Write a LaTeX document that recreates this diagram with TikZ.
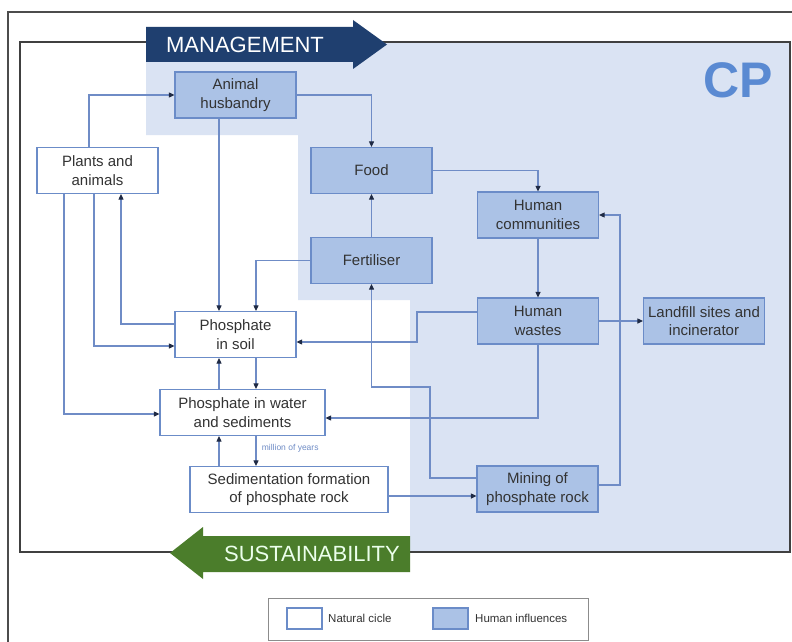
\documentclass[tikz,border=0pt]{standalone}
\usepackage{fontspec}
\setmainfont{Liberation Sans}
\usetikzlibrary{arrows.meta}

\definecolor{zona}{HTML}{DAE3F3}
\definecolor{caja}{HTML}{ABC2E6}
\definecolor{borde}{HTML}{6B8CC8}
\definecolor{linea}{HTML}{6F8CC6}
\definecolor{punta}{HTML}{1F2A44}
\definecolor{gestion}{HTML}{1F3F6F}
\definecolor{sosten}{HTML}{4B7D2B}
\definecolor{texto}{HTML}{333333}
\definecolor{sigla}{HTML}{5A8AD2}

\tikzset{
  natural/.style={draw=borde, line width=1.2pt, fill=white, minimum width=121pt,
    minimum height=46pt, inner sep=0pt, align=center, text=texto,
    font=\fontsize{15}{18.5}\selectfont},
  humano/.style={natural, fill=caja},
  flujo/.style={draw=linea, line width=1.1pt, -{Triangle[length=5.5pt,width=5pt,color=punta]}},
  leyenda/.style={text=texto, font=\fontsize{11.5}{13}\selectfont, inner sep=0pt, anchor=west},
}

\begin{document}
\begin{tikzpicture}[x=1pt, y=-1pt]
    % Fondo y marco
    \fill[white] (0,0) rectangle (792,642);
    \useasboundingbox (0,0) rectangle (792,642);
    \fill[zona] (146,42) -- (790,42) -- (790,552) -- (410,552) -- (410,300)
        -- (298,300) -- (298,135) -- (146,135) -- cycle;
    \draw[black!70, line width=1.5pt] (8,642) -- (8,12) -- (792,12);
    \draw[black!75, line width=2pt] (20,42) rectangle (790,552);

    % Flechas grandes
    \fill[gestion] (146,27) -- (353,27) -- (353,20) -- (387,44.5) -- (353,69)
        -- (353,62) -- (146,62) -- cycle;
    \node[text=white, font=\fontsize{22}{24}\selectfont] (gest) at (245,44.5) {MANAGEMENT};
    \fill[sosten] (410,536) -- (203,536) -- (203,527) -- (170,553) -- (203,579)
        -- (203,572) -- (410,572) -- cycle;
    \node[text=green!8!white, font=\fontsize{22}{24}\selectfont] (sost) at (312,554) {SUSTAINABILITY};
    \node[text=sigla, font=\fontsize{50}{52}\selectfont\bfseries] (cp) at (738,80) {CP};

    % Cajas
    \node[humano] (husb) at (235.5,95) {Animal\\husbandry};
    \node[natural] (plants) at (97.5,170.5) {Plants and\\animals};
    \node[humano] (food) at (371.5,170.5) {Food};
    \node[humano] (fert) at (371.5,260.5) {Fertiliser};
    \node[humano] (comm) at (538,215) {Human\\communities};
    \node[humano] (wastes) at (538,321) {Human\\wastes};
    \node[humano] (landfill) at (704,321) {Landfill sites and\\incinerator};
    \node[natural] (soil) at (235.5,334.5) {Phosphate\\in soil};
    \node[natural, minimum width=165pt] (water) at (242.5,412.5) {Phosphate in water\\and sediments};
    \node[natural, minimum width=198pt] (sed) at (289,489.5) {Sedimentation formation\\of phosphate rock};
    \node[humano] (mining) at (537.5,489) {Mining of\\phosphate rock};

    % Conexiones
    \draw[flujo] ([xshift=-8.5pt]plants.north) |- (husb.west);
    \draw[flujo] (husb.east) -| (food.north);
    \draw[flujo] ([xshift=-16.5pt]husb.south) -- ([xshift=-16.5pt]soil.north);
    \draw[flujo] (fert.west) -| ([xshift=20.5pt]soil.north);
    \draw[flujo] (fert.north) -- (food.south);
    \draw[flujo] ([yshift=11pt]mining.west) -| (430,387) -| (fert.south);
    \draw[flujo] (food.east) -| (comm.north);
    \draw[flujo] (comm.south) -- (wastes.north);
    \draw[flujo] (wastes.east) -- (landfill.west);
    \draw[flujo] ([yshift=4pt]mining.east) -| (620,215) -- (comm.east);
    \draw[flujo] ([yshift=9pt]wastes.west) -| (417,342) -- ([yshift=-7.5pt]soil.east);
    \draw[flujo] (wastes.south) |- ([yshift=-5.5pt]water.east);
    \draw[flujo] ([yshift=-6.5pt]sed.east) -- ([yshift=-7pt]mining.west);
    \draw[flujo] ([yshift=10.5pt]soil.west) -| ([xshift=23.5pt]plants.south);
    \draw[flujo] ([xshift=-3.5pt]plants.south) |- ([yshift=-11.5pt]soil.west);
    \draw[flujo] ([xshift=-33.5pt]plants.south) |- ([yshift=-1.5pt]water.west);
    \draw[flujo] ([xshift=-23.5pt]water.north) -- ([xshift=-16.5pt]soil.south);
    \draw[flujo] ([xshift=20.5pt]soil.south) -- ([xshift=13.5pt]water.north);
    \draw[flujo] ([xshift=13.5pt]water.south) -- ([xshift=-33pt]sed.north)
        node[pos=0.4, right=2pt, text=linea, font=\fontsize{8.5}{9}\selectfont] (myears) {million of years};
    \draw[flujo] ([xshift=-70pt]sed.north) -- ([xshift=-23.5pt]water.south);

    % Leyenda
    \draw[black!45, line width=1pt] (268,598) rectangle (588,640);
    \node[natural, minimum width=35pt, minimum height=21pt] (keynat) at (304.5,618.5) {};
    \node[leyenda] (txtnat) at (328,618.5) {Natural cicle};
    \node[humano, minimum width=35pt, minimum height=21pt] (keyhum) at (450.5,618.5) {};
    \node[leyenda] (txthum) at (475,618.5) {Human influences};
\end{tikzpicture}
\end{document}
